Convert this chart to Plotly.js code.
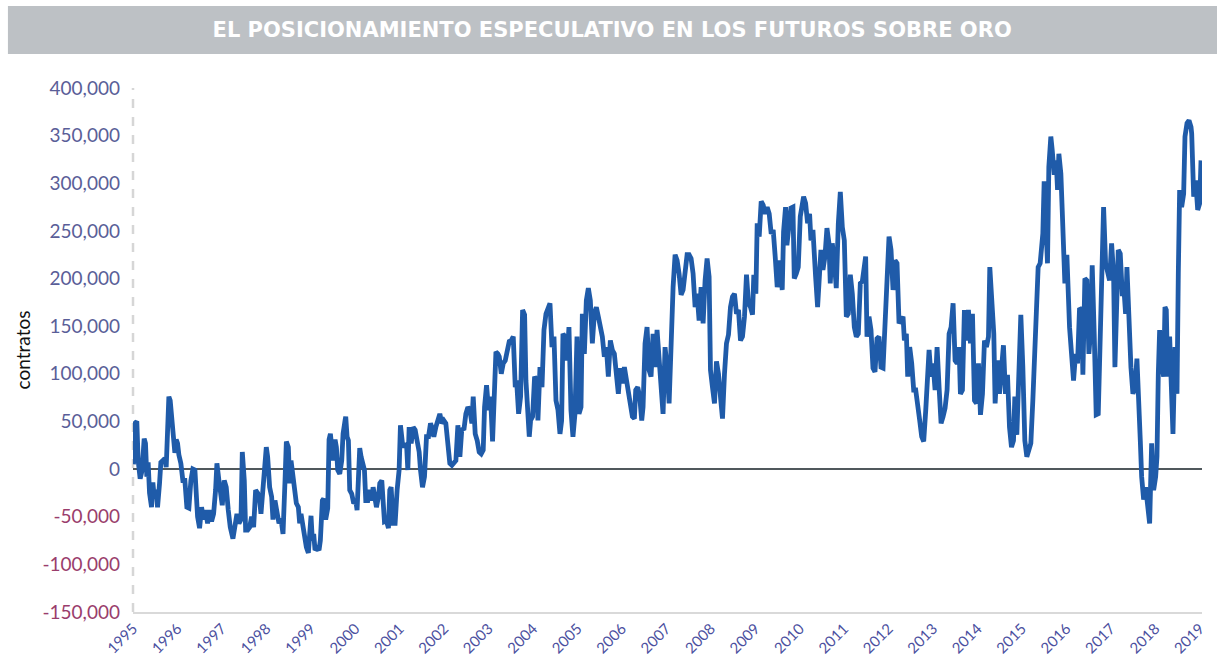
<!DOCTYPE html>
<html>
<head>
<meta charset="utf-8">
<script src="https://cdn.plot.ly/plotly-3.0.1.min.js"></script>
<style>
  html, body { margin: 0; padding: 0; background: #ffffff; }
  #chart { width: 1217px; height: 666px; }
</style>
</head>
<body>
<div id="chart"></div>
<script>
// Decimal-year dates
const dates = [
1995.011,1995.041,1995.086,1995.116,1995.161,1995.206,1995.251,1995.281,1995.311,1995.341,
1995.372,1995.417,1995.447,1995.477,1995.522,1995.552,1995.597,1995.627,1995.672,1995.717,
1995.747,1995.777,1995.807,1995.837,1995.867,1995.912,1995.942,1995.972,1996.002,1996.032,
1996.077,1996.122,1996.167,1996.212,1996.257,1996.302,1996.347,1996.393,1996.423,1996.453,
1996.498,1996.543,1996.588,1996.633,1996.678,1996.723,1996.768,1996.813,1996.858,1996.888,
1996.933,1996.978,1997.008,1997.053,1997.098,1997.143,1997.188,1997.248,1997.293,1997.338,
1997.384,1997.429,1997.459,1997.504,1997.534,1997.579,1997.624,1997.669,1997.714,1997.759,
1997.804,1997.849,1997.879,1997.909,1997.954,1997.999,1998.029,1998.074,1998.119,1998.149,
1998.194,1998.239,1998.284,1998.329,1998.375,1998.420,1998.450,1998.495,1998.525,1998.555,
1998.585,1998.630,1998.675,1998.720,1998.750,1998.780,1998.825,1998.855,1998.900,1998.945,
1998.975,1999.005,1999.035,1999.065,1999.095,1999.140,1999.185,1999.215,1999.260,1999.290,
1999.335,1999.381,1999.411,1999.441,1999.471,1999.501,1999.546,1999.576,1999.606,1999.651,
1999.696,1999.726,1999.771,
1999.786,1999.816,1999.846,1999.876,1999.921,1999.966,2000.011,2000.041,2000.071,2000.101,
2000.131,2000.177,2000.207,2000.237,2000.282,2000.327,2000.372,2000.402,2000.447,2000.477,
2000.522,2000.552,2000.597,2000.627,2000.657,2000.702,2000.747,2000.777,2000.807,2000.852,
2000.897,2000.942,2000.987,2001.017,2001.062,2001.107,2001.153,2001.183,2001.213,2001.258,
2001.303,2001.348,2001.393,2001.438,2001.468,2001.513,2001.558,2001.603,2001.648,2001.693,
2001.723,2001.768,2001.813,2001.858,2001.903,2001.948,2001.993,2002.038,2002.083,2002.128,
2002.174,2002.219,2002.264,2002.309,2002.354,2002.399,2002.444,2002.489,2002.534,2002.579,
2002.624,2002.654,2002.699,2002.744,2002.789,2002.834,2002.879,2002.909,2002.954,2002.999,
2003.044,2003.089,2003.119,2003.165,2003.210,2003.240,2003.285,2003.330,2003.375,2003.420,
2003.465,2003.510,2003.555,2003.600,2003.630,2003.675,2003.720,2003.765,2003.810,2003.840,
2003.885,2003.915,2003.945,2003.990,2004.035,2004.080,2004.110,2004.156,2004.201,2004.246,
2004.291,2004.336,2004.381,2004.426,2004.471,2004.516,2004.561,2004.606,
2004.643,2004.673,2004.718,2004.763,2004.808,2004.853,2004.898,2004.943,2004.989,2005.034,
2005.079,2005.109,2005.154,2005.199,2005.244,2005.289,2005.334,2005.379,2005.424,2005.469,
2005.514,2005.559,2005.604,2005.649,2005.694,2005.739,2005.784,2005.829,2005.874,2005.919,
2005.964,2006.010,2006.055,2006.100,2006.145,2006.190,2006.235,2006.280,2006.310,2006.355,
2006.400,2006.445,2006.475,2006.520,2006.565,2006.610,2006.655,2006.700,2006.745,2006.790,
2006.835,2006.880,2006.925,2006.970,2007.016,2007.061,2007.106,2007.151,2007.196,2007.241,
2007.286,2007.331,2007.376,2007.421,2007.466,2007.511,2007.556,2007.601,2007.646,2007.691,
2007.736,2007.781,2007.826,2007.871,2007.916,2007.961,2007.992,2008.037,2008.082,2008.127,
2008.172,2008.217,2008.262,2008.307,2008.352,2008.397,2008.442,2008.487,2008.532,2008.577,
2008.622,2008.667,2008.712,2008.757,2008.802,2008.847,2008.892,2008.937,2008.967,2009.013,
2009.043,2009.088,2009.133,2009.178,2009.223,2009.268,2009.313,2009.358,2009.403,2009.448,
2009.493,
2009.561,2009.606,2009.636,2009.681,2009.711,2009.756,2009.801,2009.847,2009.877,2009.922,
2009.967,2010.012,2010.057,2010.087,2010.132,2010.177,2010.222,2010.252,2010.297,2010.327,
2010.357,2010.402,2010.447,2010.477,2010.522,2010.567,2010.612,2010.657,2010.687,2010.732,
2010.777,2010.822,2010.868,2010.913,2010.958,2011.003,2011.048,2011.093,2011.138,2011.183,
2011.228,2011.273,2011.318,2011.363,2011.408,2011.453,2011.483,2011.513,2011.558,2011.603,
2011.648,2011.693,2011.738,2011.783,2011.828,2011.874,2011.919,2011.964,2012.009,2012.054,
2012.099,2012.144,2012.189,2012.234,2012.279,2012.324,2012.354,2012.399,2012.429,2012.474,
2012.519,2012.564,2012.609,2012.654,2012.699,2012.744,2012.789,2012.835,2012.880,2012.910,
2012.955,2013.000,2013.045,2013.090,2013.135,2013.180,2013.225,2013.270,2013.315,2013.360,
2013.405,2013.450,2013.495,2013.540,2013.585,2013.615,2013.660,2013.705,2013.750,2013.795,
2013.841,2013.886,2013.931,2013.976,2014.021,2014.066,2014.111,2014.156,2014.201,2014.246,
2014.276,2014.321,2014.366,2014.396,
2014.448,2014.493,2014.538,2014.583,2014.628,2014.674,2014.719,2014.764,2014.809,2014.839,
2014.884,2014.929,2014.974,2015.019,2015.064,2015.109,2015.154,2015.199,2015.244,2015.289,
2015.319,2015.364,2015.409,2015.439,2015.469,2015.499,2015.529,2015.574,2015.604,2015.649,
2015.680,2015.725,2015.770,2015.800,2015.830,2015.875,2015.905,2015.935,2015.965,2016.010,
2016.040,2016.070,2016.115,2016.160,2016.205,2016.250,2016.295,2016.340,2016.370,2016.415,
2016.460,2016.505,2016.550,2016.580,2016.625,2016.670,2016.716,2016.761,2016.806,2016.836,
2016.881,2016.926,2016.971,2017.016,2017.061,2017.091,2017.121,2017.166,2017.211,2017.256,
2017.301,2017.331,2017.361,2017.406,2017.451,2017.496,2017.541,2017.586,2017.616,2017.662,
2017.692,2017.737,2017.782,2017.827,2017.872,2017.917,2017.962,2018.007,2018.037,2018.067,
2018.097,2018.127,2018.157,2018.187,2018.217,2018.247,2018.277,2018.322,2018.352,2018.397,
2018.442,2018.487,2018.517,2018.547,2018.592,2018.637,2018.667,2018.713,2018.758,2018.803,
2018.818,2018.863,2018.908,2018.953,2018.998,2019.028
];

// Net speculative positions (contracts)
const contracts = [
5000,48000,50000,9000,-10000,-1000,32000,27000,-8000,7000,
-25000,-40000,-14000,-29000,-22000,-40000,-15000,7000,9000,11000,
2000,58000,76000,72000,55000,41000,17000,31000,27000,15000,
6000,-12000,-12000,-40000,-41000,-12000,0,-1000,-25000,-50000,
-62000,-40000,-53000,-43000,-57000,-43000,-55000,-47000,-22000,6000,
-12000,-25000,-38000,-12000,-19000,-43000,-61000,-73000,-61000,-47000,
-57000,-53000,18000,-12000,-64000,-64000,-61000,-50000,-61000,-22000,
-25000,-33000,-47000,-25000,9000,23000,13000,-19000,-29000,-53000,
-33000,-47000,-57000,-52000,-68000,-12000,29000,23000,-15000,9000,
-5000,-19000,-36000,-40000,-57000,-47000,-61000,-64000,-82000,-88000,
-64000,-49000,-75000,-68000,-85000,-83000,-85000,-75000,-33000,-31000,
-53000,-41000,31000,37000,23000,9000,31000,23000,-1000,-5000,
9000,37000,51000,
55000,34000,30000,-22000,-26000,-36000,-33000,-43000,-1000,22000,
13000,6000,-1000,-33000,-33000,-22000,-33000,-19000,-36000,-40000,
-29000,-15000,-12000,-29000,-55000,-54000,-62000,-22000,-19000,-57000,
-57000,-22000,-1000,46000,27000,23000,27000,-1000,44000,27000,
44000,41000,30000,18000,-1000,-19000,-8000,34000,34000,48000,
44000,34000,44000,51000,58000,48000,51000,48000,30000,6000,
4000,6000,9000,46000,13000,43000,41000,58000,65000,62000,
48000,76000,37000,30000,18000,16000,20000,65000,88000,62000,
76000,29000,76000,123000,121000,118000,100000,111000,114000,128000,
134000,135000,139000,86000,93000,58000,76000,167000,162000,93000,
58000,34000,51000,55000,97000,93000,51000,107000,86000,146000,
163000,170000,174000,128000,139000,72000,62000,37000,
51000,142000,139000,114000,149000,62000,34000,58000,139000,58000,
65000,163000,121000,177000,190000,177000,132000,163000,170000,160000,
149000,139000,118000,128000,97000,135000,125000,121000,100000,79000,
106000,90000,107000,93000,79000,65000,55000,53000,83000,86000,
76000,51000,65000,132000,149000,104000,97000,142000,107000,146000,
114000,79000,58000,128000,107000,69000,142000,191000,225000,219000,
205000,183000,188000,212000,225000,225000,221000,205000,170000,184000,
156000,191000,153000,198000,221000,202000,104000,86000,69000,113000,
100000,76000,53000,100000,132000,141000,170000,181000,184000,163000,
167000,135000,139000,160000,204000,174000,170000,162000,204000,184000,
258000,244000,281000,277000,268000,275000,268000,247000,251000,223000,
191000,
219000,188000,249000,275000,235000,254000,274000,275000,200000,205000,
212000,265000,275000,286000,279000,258000,268000,240000,251000,233000,
202000,170000,205000,230000,209000,223000,253000,237000,195000,237000,
219000,190000,258000,291000,254000,240000,160000,163000,204000,184000,
149000,139000,142000,195000,197000,219000,223000,139000,160000,146000,
106000,102000,137000,139000,107000,106000,156000,219000,244000,230000,
188000,219000,216000,153000,156000,160000,135000,142000,97000,128000,
111000,83000,83000,62000,51000,34000,29000,62000,100000,125000,
97000,111000,83000,128000,86000,48000,55000,64000,83000,142000,
149000,174000,114000,111000,128000,79000,83000,167000,135000,167000,
132000,163000,72000,69000,111000,57000,79000,135000,128000,139000,
212000,184000,142000,69000,
114000,79000,111000,130000,79000,99000,44000,23000,30000,76000,
36000,86000,162000,107000,30000,13000,23000,27000,72000,121000,
181000,212000,216000,244000,247000,302000,272000,216000,317000,349000,
335000,309000,324000,293000,331000,310000,272000,205000,195000,225000,
177000,149000,121000,93000,121000,111000,169000,167000,99000,200000,
198000,121000,149000,214000,142000,57000,58000,149000,237000,275000,
216000,209000,198000,237000,205000,107000,174000,230000,226000,184000,
184000,163000,212000,153000,107000,79000,86000,116000,69000,30000,
-8000,-32000,-19000,-36000,-57000,27000,-22000,-8000,13000,100000,
146000,100000,107000,97000,170000,167000,97000,139000,97000,37000,
128000,79000,205000,293000,275000,289000,349000,363000,366000,359000,
352000,286000,303000,272000,279000,324000
];

const yTickValues = [-150000,-100000,-50000,0,50000,100000,150000,200000,250000,300000,350000,400000];
const yTickLabels = ['-150,000','-100,000','-50,000','0','50,000','100,000','150,000','200,000','250,000','300,000','350,000','400,000'];
const yearTicks = [1995,1996,1997,1998,1999,2000,2001,2002,2003,2004,2005,2006,2007,2008,2009,2010,2011,2012,2013,2014,2015,2016,2017,2018,2019];

const posColor = '#5a5e98';
const negColor = '#9a3d6c';
const yTickText = yTickValues.map((v, i) =>
  '<span style="color:' + (v < 0 ? negColor : posColor) + '">' + yTickLabels[i] + '</span>');

const trace = {
  x: dates,
  y: contracts,
  type: 'scatter',
  mode: 'lines',
  line: { color: '#1f5ba9', width: 4.8 },
  hoverinfo: 'x+y'
};

const layout = {
  width: 1217,
  height: 666,
  margin: { l: 133, r: 15, t: 88, b: 54 },
  paper_bgcolor: '#ffffff',
  plot_bgcolor: '#ffffff',
  showlegend: false,
  title: {
    text: '<b>EL POSICIONAMIENTO ESPECULATIVO EN LOS FUTUROS SOBRE ORO</b>',
    font: { family: '"DejaVu Sans", sans-serif', size: 21, color: '#ffffff' },
    x: 0.503, xanchor: 'center', xref: 'container',
    y: 0.955, yanchor: 'middle', yref: 'container'
  },
  xaxis: {
    range: [1995, 2019.05],
    tickmode: 'array',
    tickvals: yearTicks,
    ticktext: yearTicks.map(String),
    tickangle: -45,
    tickfont: { family: 'Lato, sans-serif', size: 15, color: '#4b50a0' },
    showgrid: false,
    zeroline: false,
    showline: true,
    linecolor: '#d9d9d9',
    linewidth: 2,
    ticks: '',
    automargin: false
  },
  yaxis: {
    range: [-150000, 400000],
    tickmode: 'array',
    tickvals: yTickValues,
    ticktext: yTickText,
    tickfont: { family: 'Lato, sans-serif', size: 19, color: posColor },
    showgrid: false,
    zeroline: true,
    zerolinecolor: '#50585c',
    zerolinewidth: 2.5,
    showline: false,
    ticks: '',
    ticklabelstandoff: 12,
    automargin: false,
    title: {
      text: 'contratos',
      font: { family: 'Lato, sans-serif', size: 19, color: '#111111' },
      standoff: 6
    }
  },
  shapes: [
    {
      type: 'rect', xref: 'paper', yref: 'paper',
      x0: -0.117, x1: 1.02, y0: 1.0649, y1: 1.1565,
      fillcolor: '#bdc1c5', line: { width: 0 }, layer: 'below'
    },
    {
      type: 'line', xref: 'paper', yref: 'paper',
      x0: 0, x1: 0, y0: 0, y1: 1,
      line: { color: '#d6d6d6', width: 2.5, dash: 'dash' }, layer: 'below'
    }
  ]
};

Plotly.newPlot('chart', [trace], layout, { displayModeBar: false, staticPlot: true });
</script>
</body>
</html>
